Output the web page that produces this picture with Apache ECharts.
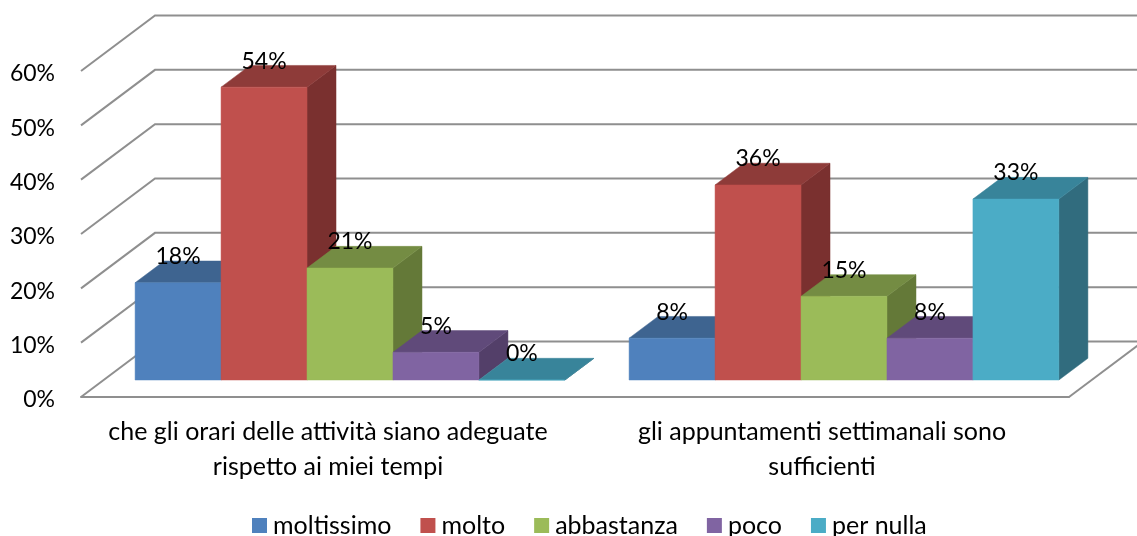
<!DOCTYPE html>
<html>
<head>
<meta charset="utf-8">
<style>html,body{margin:0;padding:0;background:#fff}#c{width:1137px;height:536px}</style>
<script src="https://cdn.jsdelivr.net/npm/echarts@6/dist/echarts.min.js"></script>
</head>
<body>
<div id="c"></div>
<script>
const categories = ['che gli orari delle attività siano adeguate\nrispetto ai miei tempi', 'gli appuntamenti settimanali sono\nsufficienti'];
const seriesNames = ['moltissimo', 'molto', 'abbastanza', 'poco', 'per nulla'];
const moltissimo = [17.9, 7.7];
const molto = [53.9, 35.9];
const abbastanza = [20.6, 15.4];
const poco = [5.1, 7.7];
const perNulla = [0, 33.3];
const seriesValues = [moltissimo, molto, abbastanza, poco, perNulla];
const yTicks = [0, 10, 20, 30, 40, 50, 60];
const frontColors = ['#4F81BD', '#C0504D', '#9BBB59', '#8064A2', '#4BACC6'];
const topColors = ['#3E6490', '#8E3B39', '#748C43', '#604A7A', '#38849A'];
const sideColors = ['#345478', '#7A302F', '#647938', '#533F69', '#316C7E'];
const FONT = 'Lato';
const FS_TEXT = 25;
const FS_NUM = 23;
const WALL = [74, -55.5];     // floor depth
const SHIFT = [22, -17];      // bar plane offset from the front of the floor
const BAR = [29, -21.7];      // bar depth
const BAR_SHARE = 0.174;      // bar width as a share of a category band

function barX(api, cat, i) {
  const w = api.size([1, 0])[0] * BAR_SHARE;
  return { x: api.coord([cat, 0])[0] - 2.5 * w + i * w + SHIFT[0], w };
}

const gridSeries = {
  type: 'custom', silent: true, z: 1, legendHoverLink: false,
  data: yTicks.map(t => [0, t]),
  encode: { x: 0, y: 1 },
  renderItem(params, api) {
    const cs = params.coordSys;
    const y = api.coord([0, api.value(1)])[1];
    const style = { stroke: '#8f8f8f', lineWidth: 2, fill: null };
    const children = [{
      type: 'polyline', silent: true, style,
      shape: { points: [[cs.x, y], [cs.x + WALL[0], y + WALL[1]], [cs.x + cs.width + WALL[0], y + WALL[1]]] }
    }];
    if (api.value(1) === 0) {
      children.push({
        type: 'line', silent: true, style,
        shape: { x1: cs.x + cs.width, y1: y, x2: cs.x + cs.width + WALL[0], y2: y + WALL[1] }
      });
    }
    return { type: 'group', children };
  }
};

const barSeries = seriesNames.map((name, i) => ({
  type: 'custom', name, z: 2,
  itemStyle: { color: frontColors[i] },
  data: seriesValues[i].map((v, c) => [c, v]),
  encode: { x: 0, y: 1 },
  renderItem(params, api) {
    const { x, w } = barX(api, api.value(0), i);
    const base = api.coord([0, 0])[1] + SHIFT[1];
    const top = api.coord([0, api.value(1)])[1] + SHIFT[1];
    const poly = (points, fill) => ({ type: 'polygon', shape: { points }, style: { fill, stroke: fill, lineWidth: 0.5 } });
    return {
      type: 'group',
      children: [
        poly([[x + w, base], [x + w + BAR[0], base + BAR[1]], [x + w + BAR[0], top + BAR[1]], [x + w, top]], sideColors[i]),
        poly([[x, top], [x + BAR[0], top + BAR[1]], [x + w + BAR[0], top + BAR[1]], [x + w, top]], topColors[i]),
        poly([[x, base], [x, top], [x + w, top], [x + w, base]], frontColors[i])
      ]
    };
  }
}));

const labelSeries = seriesNames.map((name, i) => ({
  type: 'custom', z: 5, silent: true,
  data: seriesValues[i].map((v, c) => [c, v]),
  encode: { x: 0, y: 1 },
  renderItem(params, api) {
    const { x, w } = barX(api, api.value(0), i);
    const top = api.coord([0, api.value(1)])[1] + SHIFT[1];
    return {
      type: 'text', silent: true,
      style: {
        x: x + w / 2, y: top - 26,
        text: Math.round(api.value(1)) + '%',
        textAlign: 'center', textVerticalAlign: 'middle',
        fontFamily: FONT, fontSize: FS_NUM, fill: '#000'
      }
    };
  }
}));

const chart = echarts.init(document.getElementById('c'), null, { renderer: 'canvas' });
chart.setOption({
  animation: false,
  backgroundColor: '#fff',
  grid: { left: 81, right: 68, top: 71, bottom: 139, containLabel: false },
  legend: {
    data: seriesNames, icon: 'rect', left: 247, top: 508, padding: 5,
    itemWidth: 15, itemHeight: 15, itemGap: 29,
    textStyle: { fontFamily: FONT, fontSize: FS_TEXT, color: '#000', padding: [0, 0, 0, 1] }
  },
  xAxis: {
    type: 'category', data: categories,
    axisTick: { show: false },
    axisLine: { show: true, lineStyle: { color: '#8f8f8f', width: 2 } },
    axisLabel: { margin: 17, interval: 0, fontFamily: FONT, fontSize: FS_TEXT, color: '#000', lineHeight: 35 }
  },
  yAxis: {
    type: 'value', min: 0, max: 60, interval: 10,
    axisLine: { show: false }, axisTick: { show: false }, splitLine: { show: false },
    axisLabel: { formatter: '{value}%', margin: 26, verticalAlign: 'top', lineHeight: 6, fontFamily: FONT, fontSize: FS_NUM, color: '#000' }
  },
  series: [gridSeries, ...barSeries, ...labelSeries]
});
</script>
</body>
</html>
